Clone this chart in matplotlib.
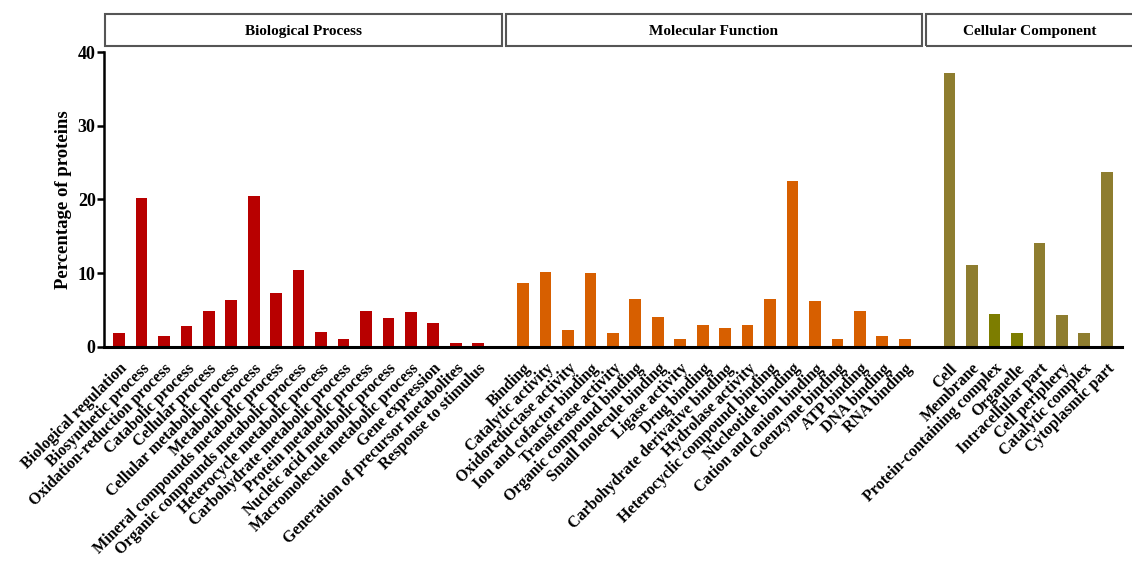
import matplotlib
matplotlib.use("Agg")
import matplotlib.pyplot as plt
from matplotlib.patches import Rectangle
import matplotlib.transforms as mtransforms

bp_labels = ["Biological regulation", "Biosynthetic process", "Oxidation-reduction process",
             "Catabolic process", "Cellular process", "Cellular metabolic process",
             "Metabolic process", "Mineral compounds metabolic process",
             "Organic compounds metabolic process", "Heterocycle metabolic process",
             "Carbohydrate metabolic process", "Protein metabolic process",
             "Nucleic acid metabolic process", "Macromolecule metabolic process",
             "Gene expression", "Generation of precursor metabolites", "Response to stimulus"]
bp_values = [1.9, 20.2, 1.4, 2.8, 4.8, 6.4, 20.5, 7.3, 10.4, 1.95, 1.1, 4.85, 3.9, 4.7, 3.2, 0.5, 0.45]

mf_labels = ["Binding", "Catalytic activity", "Oxidoreductase activity", "Ion and cofactor binding",
             "Transferase activity", "Organic compound binding", "Small molecule binding",
             "Ligase activity", "Drug binding", "Carbohydrate derivative binding",
             "Hydrolase activity", "Heterocyclic compound binding", "Nucleotide binding",
             "Cation and anion binding", "Coenzyme binding", "ATP binding", "DNA binding",
             "RNA binding"]
mf_values = [8.6, 10.2, 2.3, 10.0, 1.9, 6.5, 4.0, 1.05, 2.9, 2.5, 2.9, 6.5, 22.5, 6.2, 1.1, 4.8, 1.5, 1.0]

cc_labels = ["Cell", "Membrane", "Protein-containing complex", "Organelle", "Intracellular part",
             "Cell periphery", "Catalytic complex", "Cytoplasmic part"]
cc_values = [37.2, 11.1, 4.4, 1.8, 14.1, 4.3, 1.8, 23.7]

group_names = ["Biological Process", "Molecular Function", "Cellular Component"]

RED = "#B80000"
ORANGE = "#D75F00"
OLIVE = "#8E7D2F"
GREEN = "#7D7D00"
cc_colors = [OLIVE, OLIVE, GREEN, GREEN, OLIVE, OLIVE, OLIVE, OLIVE]

plt.rcParams['font.family'] = ['Liberation Serif', 'DejaVu Serif']

fig = plt.figure(figsize=(11.32, 5.63), dpi=100)
ax = fig.add_axes([104/1132, 1-346.7/563, (1122-104)/1132, (346.7-52.3)/563])

bp_x = list(range(len(bp_values)))
mf_start = len(bp_values) + 1
mf_x = [mf_start + i for i in range(len(mf_values))]
cc_start = mf_start + len(mf_values) + 1
cc_x = [cc_start + i for i in range(len(cc_values))]

w = 0.52
ax.bar(bp_x, bp_values, width=w, color=RED)
ax.bar(mf_x, mf_values, width=w, color=ORANGE)
ax.bar(cc_x, cc_values, width=w, color=cc_colors)

ax.set_xlim(-0.67, cc_x[-1] + 0.68)
ax.set_ylim(0, 40)
ax.set_yticks([0, 10, 20, 30, 40])
ax.tick_params(axis='y', direction='out', length=5, width=1.8, labelsize=13, pad=1)
for t in ax.get_yticklabels():
    t.set_fontweight('bold')
ax.set_ylabel("Percentage of proteins", fontsize=13.5, fontweight='bold', labelpad=4)

all_x = bp_x + mf_x + cc_x
all_labels = bp_labels + mf_labels + cc_labels
ax.set_xticks(all_x)
ax.set_xticklabels(all_labels, rotation=45, ha='right', rotation_mode='anchor',
                   fontsize=11.5, fontweight='bold')
ax.tick_params(axis='x', length=0, pad=10)

for s in ['top', 'right']:
    ax.spines[s].set_visible(False)
ax.spines['left'].set_linewidth(1.8)
ax.spines['bottom'].set_linewidth(2.2)

# header boxes in data-x / figure-y coordinates
trans = mtransforms.blended_transform_factory(ax.transData, fig.transFigure)
spans = [(-0.62, 17.05), (17.25, 35.75), (35.95, 45.5)]
y0 = 1 - 46/563
h = 32/563
for (a, b), name in zip(spans, group_names):
    r = Rectangle((a, y0), b - a, h, transform=trans, fill=False,
                  edgecolor='#555555', linewidth=1.5, clip_on=False)
    ax.add_patch(r)
    xc = (a + min(b, cc_x[-1] + 1.2)) / 2 if name == "Cellular Component" else (a + b) / 2
    ax.text(xc, y0 + h/2 - 0.003, name, transform=trans, ha='center', va='center',
            fontsize=11, fontweight='bold', clip_on=False)

fig.savefig("out.png", dpi=100)
